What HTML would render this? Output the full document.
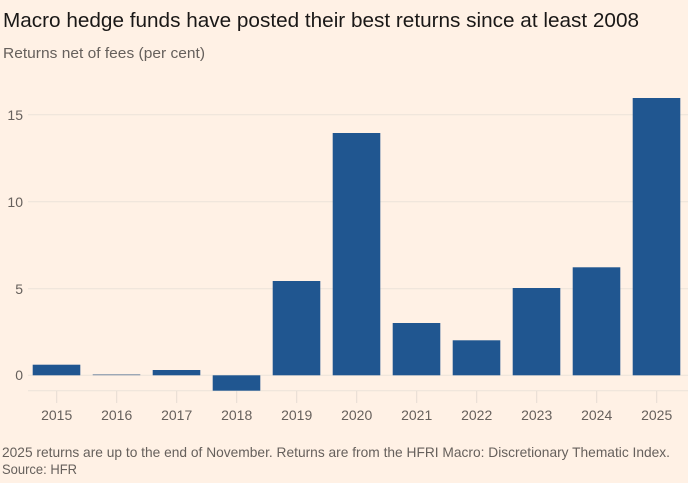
<!DOCTYPE html>
<html><head><meta charset="utf-8"><style>
html,body{margin:0;padding:0;background:#fff1e5;}
svg{display:block;}
text{font-family:"Liberation Sans",sans-serif;}
</style></head><body>
<svg width="688" height="483" viewBox="0 0 688 483" xmlns="http://www.w3.org/2000/svg">
<rect width="688" height="483" fill="#fff1e5"/>
<text x="3" y="27" font-size="20" fill="#1a1817" textLength="636" lengthAdjust="spacingAndGlyphs">Macro hedge funds have posted their best returns since at least 2008</text>
<text x="3" y="58" font-size="15" fill="#66605c" textLength="202" lengthAdjust="spacingAndGlyphs">Returns net of fees (per cent)</text>
<g stroke="#ece3da" stroke-width="1">
<line x1="28" y1="114.7" x2="688" y2="114.7"/>
<line x1="28" y1="201.7" x2="688" y2="201.7"/>
<line x1="28" y1="288.7" x2="688" y2="288.7"/>
<line x1="28" y1="375.3" x2="688" y2="375.3"/>
<line x1="28" y1="390.7" x2="688" y2="390.7"/>
</g>
<g stroke="#e6dcd3" stroke-width="1">
<line x1="56.7" y1="391" x2="56.7" y2="403"/>
<line x1="116.7" y1="391" x2="116.7" y2="403"/>
<line x1="176.7" y1="391" x2="176.7" y2="403"/>
<line x1="236.7" y1="391" x2="236.7" y2="403"/>
<line x1="296.7" y1="391" x2="296.7" y2="403"/>
<line x1="356.7" y1="391" x2="356.7" y2="403"/>
<line x1="416.7" y1="391" x2="416.7" y2="403"/>
<line x1="476.7" y1="391" x2="476.7" y2="403"/>
<line x1="536.7" y1="391" x2="536.7" y2="403"/>
<line x1="596.7" y1="391" x2="596.7" y2="403"/>
<line x1="656.7" y1="391" x2="656.7" y2="403"/>
</g>
<g font-size="14" fill="#66605c" text-anchor="end">
<text x="23" y="120">15</text>
<text x="23" y="207">10</text>
<text x="23" y="294">5</text>
<text x="23" y="380">0</text>
</g>
<g fill="#205690">
<rect x="32.7" y="364.7" width="47.6" height="10.6"/>
<rect x="92.7" y="374.2" width="47.6" height="1.1" fill="#8596ab"/>
<rect x="152.7" y="370" width="47.6" height="5.3"/>
<rect x="212.7" y="375.3" width="47.6" height="15.4"/>
<rect x="272.7" y="281" width="47.6" height="94.3"/>
<rect x="332.7" y="133" width="47.6" height="242.3"/>
<rect x="392.7" y="323" width="47.6" height="52.3"/>
<rect x="452.7" y="340.3" width="47.6" height="35"/>
<rect x="512.7" y="288" width="47.6" height="87.3"/>
<rect x="572.7" y="267.3" width="47.6" height="108"/>
<rect x="632.7" y="98" width="47.6" height="277.3"/>
</g>
<g font-size="14" fill="#66605c" text-anchor="middle">
<text x="56.7" y="420">2015</text>
<text x="116.7" y="420">2016</text>
<text x="176.7" y="420">2017</text>
<text x="236.7" y="420">2018</text>
<text x="296.7" y="420">2019</text>
<text x="356.7" y="420">2020</text>
<text x="416.7" y="420">2021</text>
<text x="476.7" y="420">2022</text>
<text x="536.7" y="420">2023</text>
<text x="596.7" y="420">2024</text>
<text x="656.7" y="420">2025</text>
</g>
<text x="2" y="457" font-size="14" fill="#66605c" textLength="668" lengthAdjust="spacingAndGlyphs">2025 returns are up to the end of November. Returns are from the HFRI Macro: Discretionary Thematic Index.</text>
<text x="2" y="474" font-size="14" fill="#66605c" textLength="75" lengthAdjust="spacingAndGlyphs">Source: HFR</text>
</svg>
</body></html>
